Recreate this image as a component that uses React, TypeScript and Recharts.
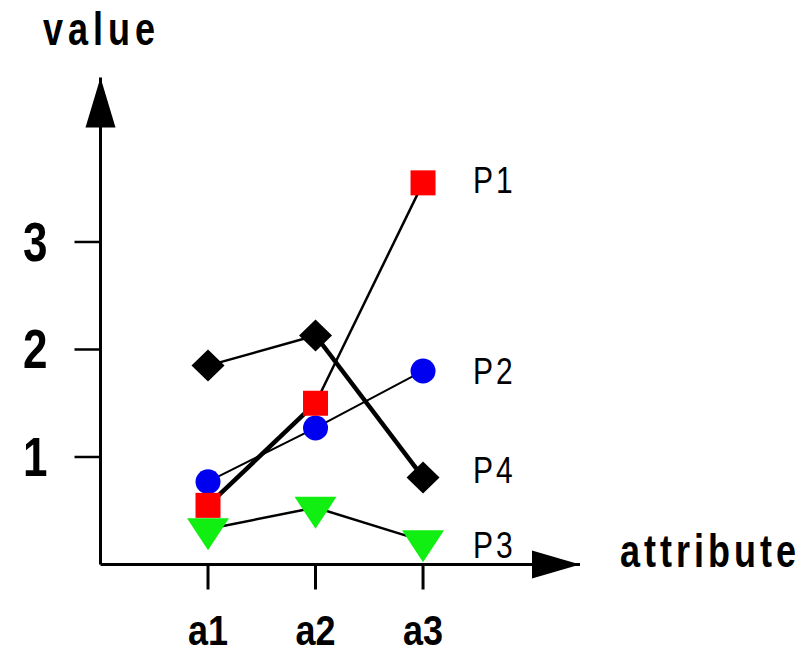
import { LineChart, Line, XAxis, YAxis, ReferenceDot } from "recharts";

const categories = ["a1", "a2", "a3"];
const xValues = [1, 2, 3];
const yTicks = [1, 2, 3];
const p1 = [0.55, 1.5, 3.55];
const p2 = [0.77, 1.27, 1.8];
const p3 = [0.33, 0.53, 0.22];
const p4 = [1.85, 2.13, 0.81];

const X_MAX = 4.46;
const Y_MAX = 4.53;
const FONT = "'Liberation Sans', Arial, sans-serif";

// draw order: blue, red, black, green
const series = [
  { key: "p2", name: "P2", values: p2, color: "#0000f0", shape: "circle", widths: [2, 2], labelDy: 13 },
  { key: "p1", name: "P1", values: p1, color: "#ff0000", shape: "square", widths: [4.5, 2.5], labelDy: 10 },
  { key: "p4", name: "P4", values: p4, color: "#000000", shape: "diamond", widths: [2.5, 4.5], labelDy: 6 },
  { key: "p3", name: "P3", values: p3, color: "#11ee11", shape: "triangle", widths: [2.5, 2.5], labelDy: 17 },
];

const data = xValues.map((x, i) => {
  const row: any = { x };
  series.forEach(s => {
    row[s.key] = s.values[i];
    row[s.key + "_s0"] = i <= 1 ? s.values[i] : null;
    row[s.key + "_s1"] = i >= 1 ? s.values[i] : null;
  });
  return row;
});

function SText({ x, y, size, bold, anchor = "start", ls = 0, sy = 1.28, children }: any) {
  return (
    <text transform={`translate(${x},${y}) scale(1,${sy})`} fontFamily={FONT} fontSize={size}
      fontWeight={bold ? "bold" : "normal"} textAnchor={anchor} letterSpacing={ls} fill="#000">
      {children}
    </text>
  );
}

function Marker({ cx, cy, shape, color }: any) {
  if (cx == null || cy == null) return <g />;
  if (shape === "square") return <rect x={cx - 12.5} y={cy - 12.5} width={25} height={25} fill={color} />;
  if (shape === "circle") return <circle cx={cx} cy={cy} r={12.5} fill={color} />;
  if (shape === "diamond")
    return <path d={`M${cx},${cy - 16}L${cx + 16.5},${cy}L${cx},${cy + 16}L${cx - 16.5},${cy}Z`} fill={color} />;
  return <path d={`M${cx - 21},${cy - 10.7}L${cx + 21},${cy - 10.7}L${cx},${cy + 21.3}Z`} fill={color} />;
}

export default function App() {
  const last = xValues.length - 1;
  return (
    <div style={{ position: "absolute", left: 0, top: 0 }}>
      <LineChart width={801} height={657} data={data} margin={{ top: 77.5, right: 221, bottom: 0, left: 0 }}>
        <XAxis type="number" dataKey="x" domain={[0, X_MAX]} ticks={xValues} allowDataOverflow
          height={92.5} tickSize={25} axisLine={{ stroke: "#000", strokeWidth: 3 }}
          tickLine={{ stroke: "#000", strokeWidth: 3 }}
          tick={(p: any) => (
            <SText key={"xt" + p.index} x={p.x} y={p.y + 53} size={36} bold anchor="middle" sy={1.2}>
              {categories[p.payload.value - 1]}
            </SText>
          )}
          label={{
            content: (p: any) => (
              <SText x={p.viewBox.x + p.viewBox.width + 40} y={p.viewBox.y + 2.5} size={36} bold ls={4} sy={1.3}>
                attribute
              </SText>
            ),
          }}
        />
        <YAxis type="number" domain={[0, Y_MAX]} ticks={yTicks} allowDataOverflow width={100.5}
          tickSize={26} axisLine={{ stroke: "#000", strokeWidth: 3 }}
          tickLine={{ stroke: "#000", strokeWidth: 2.5 }}
          tick={(p: any) => (
            <SText key={"yt" + p.index} x={p.x - 25} y={p.y + 19} size={44} bold anchor="end" sy={1.25}>
              {p.payload.value}
            </SText>
          )}
          label={{
            content: (p: any) => (
              <SText x={43} y={p.viewBox.y - 32.5} size={36} bold ls={5}>
                value
              </SText>
            ),
          }}
        />
        {series.flatMap(s => [
          <Line key={s.key + "_s0"} dataKey={s.key + "_s0"} stroke="#000" strokeWidth={s.widths[0]}
            dot={false} activeDot={false} isAnimationActive={false} />,
          <Line key={s.key + "_s1"} dataKey={s.key + "_s1"} stroke="#000" strokeWidth={s.widths[1]}
            dot={false} activeDot={false} isAnimationActive={false} />,
          <Line key={s.key} dataKey={s.key} stroke="none" activeDot={false} isAnimationActive={false}
            dot={(p: any) => <Marker key={s.key + "d" + p.index} cx={p.cx} cy={p.cy} shape={s.shape} color={s.color} />}
            label={(p: any) =>
              p.index === last ? (
                <SText key={s.key + "l"} x={p.x + 50} y={p.y + s.labelDy} size={30} ls={3} sy={1.25}>
                  {s.name}
                </SText>
              ) : (
                <g key={s.key + "l" + p.index} />
              )
            }
          />,
        ])}
        <ReferenceDot x={0} y={Y_MAX} r={0} ifOverflow="visible"
          shape={(p: any) => <path d={`M${p.cx},${p.cy}L${p.cx + 15},${p.cy + 50}L${p.cx - 15},${p.cy + 50}Z`} fill="#000" />} />
        <ReferenceDot x={X_MAX} y={0} r={0} ifOverflow="visible"
          shape={(p: any) => <path d={`M${p.cx},${p.cy}L${p.cx - 48},${p.cy - 14}L${p.cx - 48},${p.cy + 14}Z`} fill="#000" />} />
      </LineChart>
    </div>
  );
}
